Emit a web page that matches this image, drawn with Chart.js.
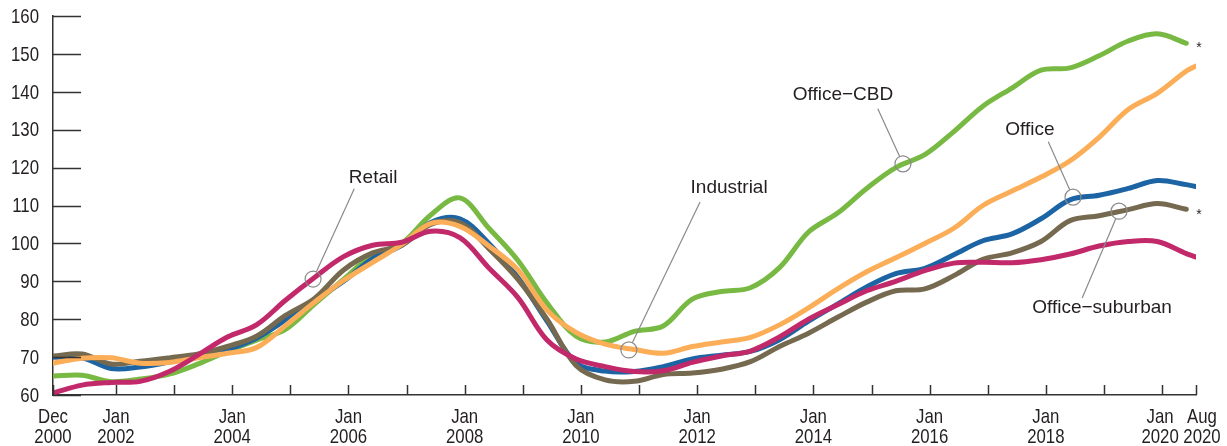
<!DOCTYPE html>
<html>
<head>
<meta charset="utf-8">
<script src="https://cdn.jsdelivr.net/npm/chart.js@4.4.1/dist/chart.umd.min.js"></script>
<style>
  html, body { margin: 0; padding: 0; background: #fff; }
  #wrap { width: 1227px; height: 446px; }
</style>
</head>
<body>
<div id="wrap"><canvas id="priceChart" width="1227" height="446"></canvas></div>
<script>
// Months since Dec 2000 (0 = Dec 2000, 236 = Aug 2020)
const MONTHS = [0, 6, 12, 18, 24, 30, 36, 42, 48, 54, 60, 66, 72, 78, 84, 90, 96, 102, 108, 114,
  120, 126, 132, 138, 144, 150, 156, 162, 168, 174, 180, 186, 192, 198, 204, 210, 216, 222, 228, 234, 236];

const OFFICE_CBD = [65, 65.2, 63.5, 64.2, 65.5, 68.2, 71.5, 74.5, 77.3, 84, 90.5, 97, 100, 107.5, 112, 104, 95.5, 84.3, 75.5, 74,
  76.8, 78.2, 85.3, 87.3, 88.3, 93.6, 103, 108, 114.5, 120, 123.4, 129.5, 136.2, 141, 145.7, 146.3, 149.5, 153.4, 155.3, 152.8, null];
const OFFICE = [70, 69.8, 67, 67.4, 68.7, 70.2, 72, 75, 79.8, 85, 90, 96, 99.5, 105.5, 106.5, 100, 91, 79.5, 68.5, 66.3,
  66.2, 67.5, 69.5, 70.5, 71.5, 74.6, 79.5, 84, 88.5, 92, 93.4, 97, 100.7, 102.5, 106.5, 111.5, 112.7, 114.5, 116.6, 115.5, 115];
const OFFICE_SUBURBAN = [70.3, 70.8, 68.2, 68.9, 69.8, 70.8, 72.8, 75.5, 81, 85.5, 93, 97.5, 99.5, 105, 105.5, 98.6, 90.5, 80, 67.8, 64,
  63.6, 65.4, 65.8, 66.8, 68.8, 72.8, 76.3, 80.5, 84.5, 87.5, 88, 91.5, 95.8, 97.5, 100.5, 106, 107.3, 108.9, 110.5, 109, null];
const INDUSTRIAL = [68.4, 69.7, 69.8, 68.4, 68.6, 69.8, 71, 72.5, 78.3, 84.5, 90.2, 95, 99.7, 105.3, 104.5, 99.3, 93, 82.4, 76.5, 73.4,
  72, 71, 72.8, 74, 75.2, 78.5, 83, 88, 92.5, 96.2, 100, 104, 110, 113.8, 117.5, 121.8, 128, 135.3, 139.6, 145.5, 146.8];
const RETAIL = [60.5, 62.6, 63.3, 63.6, 66.2, 70.6, 75.3, 78.5, 85, 91, 96.5, 99.5, 100.3, 103.2, 101.5, 93.5, 85.7, 74.5, 69.5, 67.5,
  66.2, 66.4, 68.6, 70.3, 71.6, 75.3, 80, 83.8, 87.5, 90, 92.8, 94.8, 95, 94.9, 95.7, 97.2, 99.3, 100.5, 100.5, 97.3, 96.4];

// Axis ticks
const Y_TICKS = [60, 70, 80, 90, 100, 110, 120, 130, 140, 150, 160];
const X_TICK_MONTHS = [0, 13, 25, 37, 49, 61, 73, 85, 97, 109, 121, 133, 145, 157, 169, 181, 193, 205, 217, 229, 236];
const X_LABEL_MONTHS = [0, 13, 37, 61, 85, 109, 133, 157, 181, 205, 229, 236];
const X_LABELS = [['Dec', '2000'], ['Jan', '2002'], ['Jan', '2004'], ['Jan', '2006'], ['Jan', '2008'], ['Jan', '2010'],
  ['Jan', '2012'], ['Jan', '2014'], ['Jan', '2016'], ['Jan', '2018'], ['Jan', '2020'], ['Aug', '2020']];
// small nudges so the last two labels do not collide
const X_LABEL_NUDGE = [0, 0, 0, 0, 0, 0, 0, 0, 0, 0, -2, 6];

// Callouts: text anchor, leader start, circle centre (month, index value)
const CALLOUTS = [
  { text: 'Retail',          tx: 66.1,  ty: 117.3, lx: 62.2,  ly: 114.4, cx: 53.7,  cy: 90.6 },
  { text: 'Industrial',      tx: 139.6, ty: 114.6, lx: 133.6, ly: 110.9, cx: 118.9, cy: 71.9 },
  { text: 'Office\u2212CBD', tx: 163.1, ty: 139.2, lx: 170.3, ly: 135.5, cx: 175.5, cy: 121 },
  { text: 'Office',          tx: 201.7, ty: 129.9, lx: 205.5, ly: 126.8, cx: 210.6, cy: 112.2 },
  { text: 'Office\u2212suburban', tx: 216.6, ty: 83, lx: 212.5, ly: 85.6, cx: 220.1, cy: 108.5 },
];
const STARS = [{ x: 236.6, y: 152.3 }, { x: 236.6, y: 108.3 }];

const COLORS = {
  cbd:      '#78b943',
  office:   '#1c64a3',
  suburban: '#756a4f',
  industrial: '#fcad58',
  retail:   '#c2296a',
  axis:     '#333333',
  text:     '#231f20',
  callout:  '#8a8a8a',
};

// narrow look: Liberation Sans squeezed horizontally
const TICK_FONT = "21px 'Liberation Sans', Arial, sans-serif";
const TICK_SQUEEZE = 0.8;
const LABEL_FONT = "19px 'Liberation Sans', Arial, sans-serif";

function series(vals) {
  return MONTHS.map((m, i) => ({ x: m, y: vals[i] }));
}

function narrowText(ctx, text, x, y, align) {
  ctx.save();
  ctx.translate(x, y);
  ctx.scale(TICK_SQUEEZE, 1);
  ctx.textAlign = align;
  ctx.fillText(text, 0, 0);
  ctx.restore();
}

// Inward tick marks, tick labels, callouts and asterisks
const decorPlugin = {
  id: 'decor',
  afterDraw(chart) {
    const { ctx, scales: { x, y } } = chart;
    const x0 = x.left, y0 = y.bottom;
    ctx.save();
    ctx.strokeStyle = COLORS.axis;
    ctx.lineWidth = 1.5;
    ctx.beginPath();
    Y_TICKS.forEach(v => {
      const py = Math.round(y.getPixelForValue(v)) + 0.5;
      ctx.moveTo(x0, py);
      ctx.lineTo(x0 + 28, py);
    });
    X_TICK_MONTHS.forEach(m => {
      const px = Math.round(x.getPixelForValue(m)) + 0.5;
      ctx.moveTo(px, y0);
      ctx.lineTo(px, y0 - 10);
    });
    ctx.stroke();

    ctx.fillStyle = COLORS.text;
    ctx.font = TICK_FONT;
    ctx.textBaseline = 'middle';
    Y_TICKS.forEach(v => {
      narrowText(ctx, String(v), x0 - 14, y.getPixelForValue(v) + 1, 'right');
    });
    ctx.textBaseline = 'alphabetic';
    X_LABEL_MONTHS.forEach((m, i) => {
      const px = x.getPixelForValue(m) + X_LABEL_NUDGE[i];
      narrowText(ctx, X_LABELS[i][0], px, y0 + 28, 'center');
      narrowText(ctx, X_LABELS[i][1], px, y0 + 48, 'center');
    });

    ctx.font = LABEL_FONT;
    ctx.textAlign = 'center';
    ctx.textBaseline = 'middle';
    CALLOUTS.forEach(c => {
      const tx = x.getPixelForValue(c.tx), ty = y.getPixelForValue(c.ty);
      const lx = x.getPixelForValue(c.lx), ly = y.getPixelForValue(c.ly);
      const cx = x.getPixelForValue(c.cx), cy = y.getPixelForValue(c.cy);
      ctx.fillText(c.text, tx, ty);
      const r = 8;
      const dx = cx - lx, dy = cy - ly, d = Math.hypot(dx, dy);
      ctx.strokeStyle = COLORS.callout;
      ctx.lineWidth = 1.2;
      ctx.beginPath();
      ctx.moveTo(lx, ly);
      ctx.lineTo(cx - dx / d * r, cy - dy / d * r);
      ctx.stroke();
      ctx.beginPath();
      ctx.arc(cx, cy, r, 0, Math.PI * 2);
      ctx.stroke();
    });

    ctx.font = "14px 'Liberation Sans', Arial, sans-serif";
    STARS.forEach(s => {
      ctx.fillText('*', x.getPixelForValue(s.x), y.getPixelForValue(s.y) + 3);
    });
    ctx.restore();
  }
};

function lineSet(label, vals, color) {
  return {
    label,
    data: series(vals),
    borderColor: color,
    backgroundColor: color,
    borderWidth: 5,
    pointRadius: 0,
    tension: 0.35,
    borderCapStyle: 'round',
    borderJoinStyle: 'round',
    spanGaps: false,
  };
}

new Chart(document.getElementById('priceChart'), {
  type: 'line',
  data: {
    datasets: [
      // first dataset is drawn on top
      lineSet('Retail', RETAIL, COLORS.retail),
      lineSet('Industrial', INDUSTRIAL, COLORS.industrial),
      lineSet('Office-suburban', OFFICE_SUBURBAN, COLORS.suburban),
      lineSet('Office', OFFICE, COLORS.office),
      lineSet('Office-CBD', OFFICE_CBD, COLORS.cbd),
    ]
  },
  options: {
    responsive: false,
    animation: false,
    layout: { padding: { top: 16, right: 31, left: 0, bottom: 0 } },
    plugins: {
      legend: { display: false },
      tooltip: { enabled: false },
    },
    scales: {
      x: {
        type: 'linear',
        min: 0,
        max: 236,
        grid: { display: false, drawTicks: false },
        border: { display: true, color: COLORS.axis, width: 1.5 },
        afterBuildTicks(scale) { scale.ticks = X_TICK_MONTHS.map(v => ({ value: v })); },
        afterFit(scale) { scale.height = 51; },
        ticks: { display: false }
      },
      y: {
        min: 60,
        max: 160,
        grid: { display: false, drawTicks: false },
        border: { display: true, color: COLORS.axis, width: 1.5 },
        afterFit(scale) { scale.width = 53; },
        ticks: { display: false, stepSize: 10 }
      }
    }
  },
  plugins: [decorPlugin]
});
</script>
</body>
</html>
